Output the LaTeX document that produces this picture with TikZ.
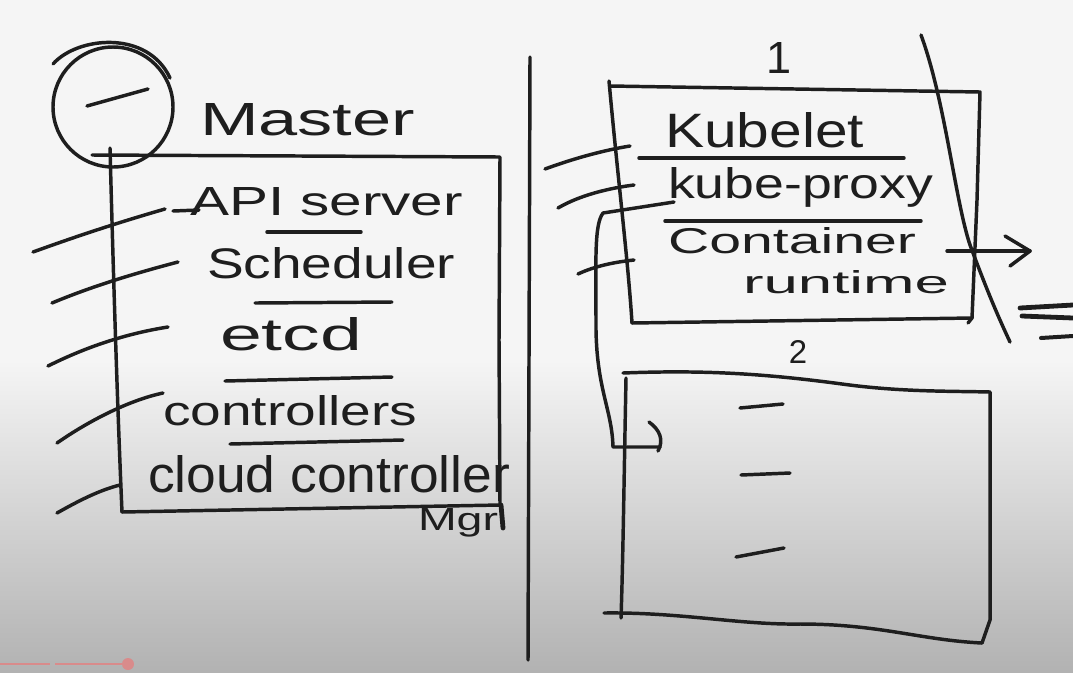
\documentclass[tikz,border=0pt]{standalone}
\usepackage{fontspec}
\usepackage{graphicx}
\newfontfamily\hand{Liberation Sans}
\newlength\pxu \setlength\pxu{0.75pt}
\newcommand\fitt[3]{\resizebox{#1\pxu}{#2\pxu}{\hand #3}}
\definecolor{inkc}{HTML}{1E1E1E}
\definecolor{bgtop}{HTML}{F5F5F5}
\definecolor{bgbot}{HTML}{B2B2B2}
\definecolor{barc}{HTML}{D98B8B}
\begin{document}
\begin{tikzpicture}[x=0.75pt,y=-0.75pt,
  pen/.style={draw=inkc, line width=2.6pt, line cap=round, line join=round},
  txt/.style={anchor=base west, inner sep=0pt, outer sep=0pt, text=inkc}]
\useasboundingbox (0,0) rectangle (1073,672);
% background
\fill[bgtop] (0,0) rectangle (1073,672);
\shade[top color=bgtop, bottom color=bgbot] (0,360) rectangle (1073,672);
% progress bar
\draw[barc, line width=2.2pt] (0,664) -- (50,664);
\draw[barc, line width=2.2pt] (55,664) -- (128,664);
\fill[barc] (128,664) circle[radius=4.5pt];

% ---------- left: master ----------
\draw[pen] (113,107) ellipse [x radius=60, y radius=60];
\draw[pen] (53,64) .. controls (78,36) and (148,30) .. (170,78);
\coordinate (cdl) at (87,106); \coordinate (cdr) at (148,89);
\draw[pen] (cdl) -- (cdr);
\node[txt] (master) at (200,135) {\fitt{215}{32}{Master}};

% box
\coordinate (mtl) at (110,148);
\coordinate (mtr) at (500,157);
\coordinate (mbr) at (500,505);
\coordinate (mbl) at (122,512);
\draw[pen] (92,155) -- (300,156) -- (mtr) -- (499,340) -- (mbr);
\draw[pen, line width=3.6pt] (501,505) -- (503,528);
\draw[pen] (mtl) .. controls (114,300) and (118,420) .. (mbl);
\draw[pen] (mbl) -- (mbr);

% items
\node[txt] (api) at (190,215) {\fitt{273}{28}{API server}};
\draw[pen] (173,211) -- (199,210);
\draw[pen] (267,232) -- (361,232);
\node[txt] (sched) at (207,278) {\fitt{248}{31}{Scheduler}};
\draw[pen] (255,303) -- (392,302);
\node[txt] (etcd) at (220,350) {\fitt{142}{33}{etcd}};
\draw[pen] (225,381) -- (392,377);
\node[txt] (ctrl) at (163,425) {\fitt{254}{30}{controllers}};
\draw[pen] (230,444) -- (403,440);
\node[txt] (cloud) at (148,492) {\fitt{362}{37}{cloud controller}};
\node[txt] (mgr) at (418,530) {\fitt{80}{22}{Mgr}};

% left ticks
\draw[pen] (33,252) .. controls (80,235) and (120,222) .. (165,209);
\draw[pen] (52,303) .. controls (95,285) and (140,272) .. (178,262);
\draw[pen] (48,366) .. controls (90,345) and (130,333) .. (168,327);
\draw[pen] (57,443) .. controls (90,420) and (130,400) .. (163,393);
\draw[pen] (57,513) .. controls (80,500) and (100,490) .. (120,485);

% divider
\draw[pen] (530,57) -- (528,660);

% ---------- right: node 1 ----------
\node[anchor=base, inner sep=0pt, text=inkc] (one) at (779,73) {\resizebox{!}{31\pxu}{\hand 1}};
\coordinate (atl) at (610,86);
\coordinate (atr) at (980,92);
\coordinate (abr) at (972,318);
\coordinate (abl) at (632,323);
\draw[pen] (atl) -- (atr) -- (977,200) -- (abr) -- (968,323);
\draw[pen] (609,81) .. controls (618,180) and (628,260) .. (abl);
\draw[pen] (abl) -- (abr);

\node[txt] (kubelet) at (665,147) {\fitt{199}{35}{Kubelet}};
\draw[pen] (639,158) -- (904,158);
\node[txt] (proxy) at (668,198) {\fitt{265}{31}{kube-proxy}};
\draw[pen] (665,221) -- (921,221);
\node[txt] (cont) at (668,253) {\fitt{248}{26}{Container}};
\node[txt] (runt) at (743,293) {\fitt{206}{23}{runtime}};

% arrow out
\coordinate (aos) at (947,251);
\coordinate (aoe) at (1030,251);
\draw[pen] (aos) -- (aoe);
\draw[pen] (1005,236) -- (aoe) -- (1010,266);

% diagonal
\draw[pen] (921,35) .. controls (945,100) and (955,200) .. (970,245) .. controls (985,285) and (995,310) .. (1010,342);

% scribbles at right
\draw[pen, line width=3.6pt] (1020,308) -- (1073,305);
\draw[pen, line width=3.6pt] (1022,316) -- (1073,318);
\draw[pen, line width=3pt] (1041,338) -- (1073,336);

% left ticks node 1
\draw[pen] (545,169) .. controls (575,158) and (605,150) .. (630,146);
\draw[pen] (558,208) .. controls (580,195) and (610,188) .. (634,185);
\draw[pen] (578,274) .. controls (595,266) and (615,262) .. (634,260);

% ---------- node 2 ----------
\node[anchor=base, inner sep=0pt, text=inkc] (two) at (798,363) {\resizebox{!}{23\pxu}{\hand 2}};
\coordinate (btl) at (623,373);
\coordinate (btr) at (990,392);
\coordinate (bbr) at (982,643);
\coordinate (bbl) at (621,618);
\draw[pen] (btl) .. controls (700,370) and (760,373) .. (842,384) .. controls (900,392) and (950,391) .. (btr);
\draw[pen] (btr) -- (990,620) -- (bbr);
\draw[pen] (626,378) .. controls (624,480) and (623,560) .. (bbl);
\draw[pen] (604,613) .. controls (680,612) and (740,625) .. (800,624) .. controls (880,624) and (920,640) .. (bbr);
\draw[pen] (740,408) -- (783,404);
\draw[pen] (741,475) -- (790,473);
\draw[pen] (736,557) -- (784,548);

% connector kube-proxy -> node 2
\coordinate (kps) at (674,202);
\coordinate (kpe) at (660,447);
\draw[pen] (kps) -- (603,213) .. controls (594,225) and (596,260) .. (596,330) .. controls (597,390) and (612,410) .. (613,447) -- (kpe);
\draw[pen] (649,422) .. controls (660,430) and (664,440) .. (658,451);
\end{tikzpicture}
\end{document}
